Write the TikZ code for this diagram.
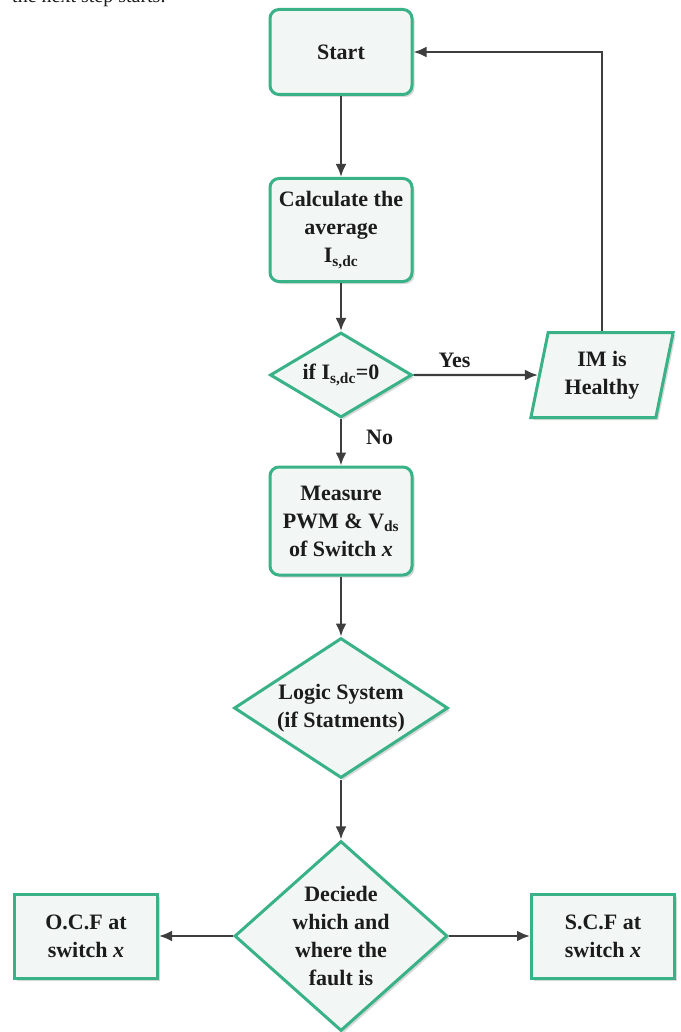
\documentclass[tikz,border=0pt]{standalone}
\usepackage{fontspec}
\setmainfont{Liberation Serif}
\usetikzlibrary{shapes,arrows.meta,shadows}

\definecolor{boxgreen}{RGB}{56,178,134}
\definecolor{boxfill}{RGB}{242,247,246}
\definecolor{linegray}{RGB}{62,62,62}
\definecolor{textdark}{RGB}{28,28,28}

\tikzset{
  base/.style={draw=boxgreen, line width=3pt, fill=boxfill, text=textdark,
    font=\fontsize{22}{28}\selectfont\bfseries, align=center, inner sep=0pt,
    drop shadow={shadow xshift=2.5pt, shadow yshift=-2.5pt, opacity=0.3}},
  process/.style={base, rectangle, rounded corners=9pt, minimum width=142pt},
  result/.style={base, rectangle, minimum width=143pt, minimum height=84pt},
  decision/.style={base, diamond},
  io/.style={base, trapezium, trapezium left angle=76, trapezium right angle=104,
    trapezium stretches=true, minimum width=143pt, minimum height=85pt},
  flow/.style={draw=linegray, line width=2.4pt, -{Latex[length=13pt,width=11pt]}},
  lbl/.style={font=\fontsize{22}{28}\selectfont\bfseries, text=textdark, inner sep=0pt}
}

\begin{document}
\begin{tikzpicture}[x=1pt,y=-1pt]
  \useasboundingbox (0,0) rectangle (680,1032);

  % text of the page above, cut by the frame
  \node[anchor=base west, inner sep=0pt, text=textdark,
    font=\fontsize{20}{24}\selectfont] (caption) at (12,3) {the next step starts.};

  % main column
  \node[process, minimum height=85pt] (start) at (341,52) {Start};
  \node[process, minimum height=103pt] (calc) at (341,230)
    {Calculate the\\average\\I\textsubscript{s,dc}};
  \node[decision, aspect=1.67, minimum width=142pt, minimum height=85pt] (check) at (341,375)
    {if I\textsubscript{s,dc}=0};
  \node[io] (healthy) at (602,375) {IM is\\Healthy};
  \node[process, minimum height=108pt] (measure) at (341,521)
    {Measure\\PWM \& V\textsubscript{ds}\\of Switch \textit{x}};
  \node[decision, aspect=1.53, minimum width=214pt, minimum height=140pt] (logic) at (341,708)
    {Logic System\\(if Statments)};
  \node[decision, aspect=1.12, minimum width=213pt, minimum height=190pt] (decide) at (341,936)
    {Deciede\\which and\\where the\\fault is};

  % the two faults
  \node[result] (ocf) at (86,936) {O.C.F at\\switch \textit{x}};
  \node[result] (scf) at (603,936) {S.C.F at\\switch \textit{x}};

  % connectors
  \draw[flow] (start) -- (calc);
  \draw[flow] (calc) -- (check);
  \draw[flow] (check) -- node[lbl, pos=0.33, above=6pt] {Yes} (healthy);
  \draw[flow] (healthy) |- (start);
  \draw[flow] (check) -- node[lbl, pos=0.4, right=24pt] {No} (measure);
  \draw[flow] (measure) -- (logic);
  \draw[flow] (logic) -- (decide);
  \draw[flow] (decide) -- (ocf);
  \draw[flow] (decide) -- (scf);
\end{tikzpicture}
\end{document}
